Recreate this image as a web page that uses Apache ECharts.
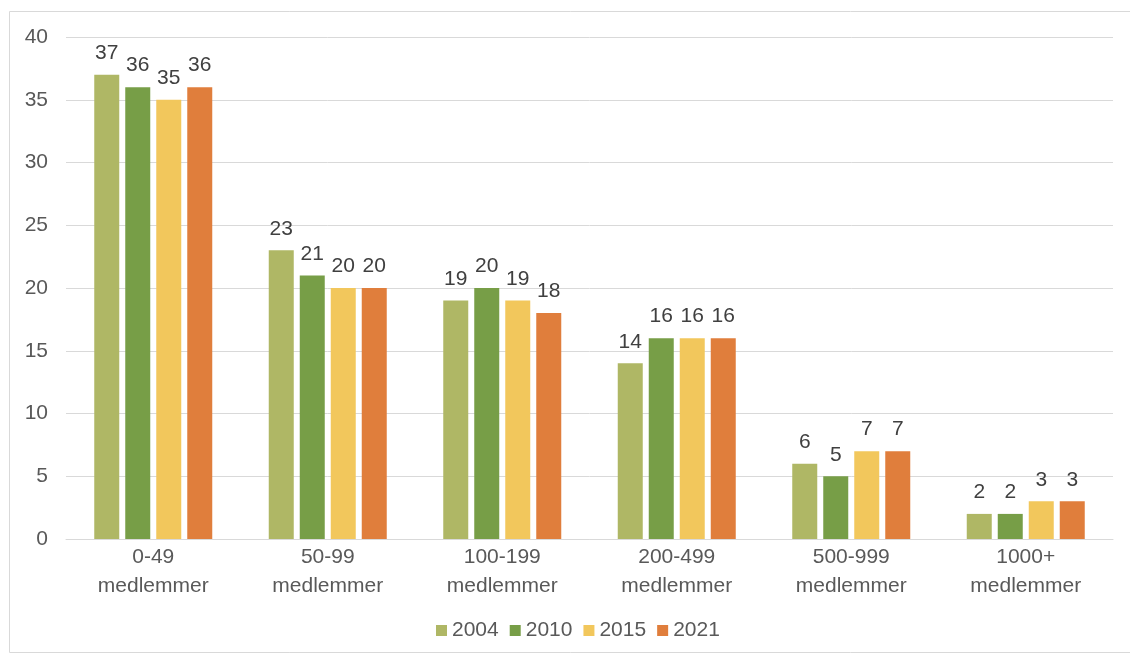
<!DOCTYPE html>
<html><head><meta charset="utf-8">
<script src="https://cdn.jsdelivr.net/npm/echarts@6/dist/echarts.min.js"></script>
<style>html,body{margin:0;padding:0;background:#fff}#c{width:1130px;height:655px}</style>
</head><body><div id="c"></div>
<script>
const categories = ['0-49\nmedlemmer','50-99\nmedlemmer','100-199\nmedlemmer','200-499\nmedlemmer','500-999\nmedlemmer','1000+\nmedlemmer'];
const years = ['2004','2010','2015','2021'];
const s2004 = [37,23,19,14,6,2];
const s2010 = [36,21,20,16,5,2];
const s2015 = [35,20,19,16,7,3];
const s2021 = [36,20,18,16,7,3];
const colors = ['#AFB765','#779E47','#F2C75C','#E07E3C'];
const allData = [s2004,s2010,s2015,s2021];
const chart = echarts.init(document.getElementById('c'));
chart.setOption({
  animation:false,
  graphic:[{type:'rect',shape:{x:9.5,y:11.5,width:1130,height:641},style:{fill:'none',stroke:'#d9d9d9',lineWidth:1},silent:true}],
  grid:{left:66,right:17,top:37,bottom:116},
  legend:{bottom:9,left:431,itemWidth:11,itemHeight:11,itemGap:11,icon:'rect',
    textStyle:{color:'#595959',fontSize:21,fontFamily:'Liberation Sans'}, data:years},
  xAxis:{type:'category',data:categories,
    axisLine:{lineStyle:{color:'#d9d9d9',width:1}},axisTick:{show:false},
    axisLabel:{color:'#595959',fontSize:21,fontFamily:'Liberation Sans',lineHeight:29,margin:4}},
  yAxis:{type:'value',min:0,max:40,interval:5,
    axisLine:{show:false},axisTick:{show:false},
    splitLine:{lineStyle:{color:'#d9d9d9',width:1}},
    axisLabel:{color:'#595959',fontSize:21,fontFamily:'Liberation Sans',margin:18}},
  series: years.map((y,i)=>({name:y,type:'bar',data:allData[i],barWidth:25,barGap:'24%',
    itemStyle:{color:colors[i]},
    label:{show:true,position:'top',distance:11,color:'#404040',fontSize:21,fontFamily:'Liberation Sans'}}))
});
</script></body></html>
